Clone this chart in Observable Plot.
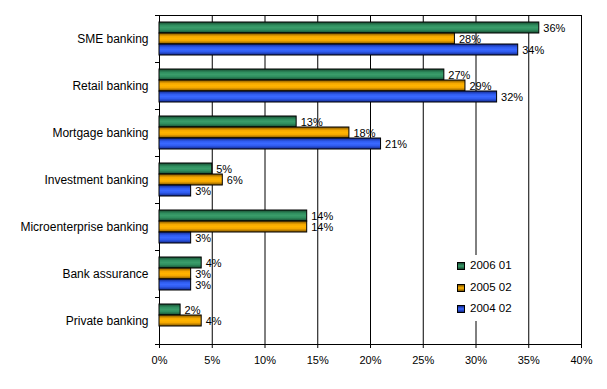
<!DOCTYPE html>
<html><head><meta charset="utf-8">
<script src="https://cdn.jsdelivr.net/npm/d3@7"></script>
<script src="https://cdn.jsdelivr.net/npm/@observablehq/plot@0.6"></script>
<style>
body{margin:0;background:#fff;font-family:"Liberation Sans",Arial,sans-serif;}
#wrap{position:relative;width:607px;height:389px;}
#legend{position:absolute;left:455px;top:255px;width:62px;height:66px;background:#fff;font-size:11.5px;color:#000;}
.item{position:absolute;left:2px;height:13px;line-height:13px;display:flex;align-items:center;white-space:nowrap;}
.sw{width:6px;height:6px;border:1px solid #000;margin-right:5px;}
svg [aria-label^="fy-axis"] text, svg [aria-label^="fy-axis"]{font-size:12px;}
</style></head><body><div id="wrap"></div>
<script>
const categories = ["SME banking","Retail banking","Mortgage banking","Investment banking","Microenterprise banking","Bank assurance","Private banking"];
const series = ["2006 01","2005 02","2004 02"];
const v2006 = [36,27,13,5,14,4,2];
const v2005 = [28,29,18,6,14,3,4];
const v2004 = [34,32,21,3,3,3,null];
const xTicks = [0,5,10,15,20,25,30,35,40];
const gradients = [
  {id:"gGreen", dark:"#174a30", base:"#2f8f5f", light:"#3a9c6a"},
  {id:"gOrange", dark:"#7a5200", base:"#f5a800", light:"#ffb400"},
  {id:"gBlue", dark:"#13288a", base:"#2f5cf0", light:"#3a68ff"}
];

const seriesValues = [v2006, v2005, v2004];
const data = [];
categories.forEach((c, i) => {
  series.forEach((s, j) => {
    const v = seriesValues[j][i];
    if (v != null) data.push({cat: c, series: s, value: v});
  });
});

const plot = Plot.plot({
  width: 607,
  height: 389,
  marginTop: 15,
  marginBottom: 45,
  marginLeft: 159,
  marginRight: 26,
  style: {fontFamily: '"Liberation Sans", Arial, sans-serif', fontSize: "11px", color: "#000", background: "#fff"},
  x: {domain: [0, 40], ticks: xTicks, tickFormat: d => d + "%", tickSize: 4, tickPadding: 8, label: null},
  y: {domain: series, axis: null, paddingInner: 0, paddingOuter: 0.46},
  fy: {domain: categories, padding: 0, label: null, tickSize: 0, tickPadding: 11},
  color: {domain: series, range: gradients.map(g => `url(#${g.id})`)},
  marks: [
    Plot.ruleX(xTicks, {x: d => d, stroke: "#000", strokeWidth: 1}),
    Plot.barX(data, {fy: "cat", y: "series", x: "value", fill: "series", stroke: "#000", strokeWidth: 1}),
    Plot.text(data, {fy: "cat", y: "series", x: "value", text: d => d.value + "%", textAnchor: "start", dx: 4, fill: "#000"})
  ]
});

// gradient definitions and plot-area border, from the library's scales
const svg = d3.select(plot);
const defs = svg.insert("defs", ":first-child");
gradients.forEach(g => {
  const lg = defs.append("linearGradient").attr("id", g.id).attr("x1", 0).attr("y1", 0).attr("x2", 0).attr("y2", 1);
  [[0, g.dark], [0.3, g.base], [0.5, g.light], [0.7, g.base], [1, g.dark]].forEach(([o, c]) =>
    lg.append("stop").attr("offset", o).attr("stop-color", c));
});
const xs = plot.scale("x"), fys = plot.scale("fy");
const x0 = xs.range[0], x1 = xs.range[1];
const y0 = fys.range[0], y1 = fys.range[1];
const deco = svg.append("g").attr("stroke", "#000").attr("stroke-width", 1).attr("shape-rendering", "crispEdges");
deco.append("line").attr("x1", x0).attr("x2", x1).attr("y1", y0 + 0.5).attr("y2", y0 + 0.5);
deco.append("line").attr("x1", x0).attr("x2", x1).attr("y1", y1 + 0.5).attr("y2", y1 + 0.5);
categories.concat([null]).forEach((c, i) => {
  const y = y0 + i * fys.step;
  deco.append("line").attr("x1", x0 - 4).attr("x2", x0).attr("y1", Math.round(y) + 0.5).attr("y2", Math.round(y) + 0.5);
});

const wrap = document.getElementById("wrap");
wrap.appendChild(plot);

const legend = document.createElement("div");
legend.id = "legend";
const tops = [4, 26, 47];
series.forEach((s, j) => {
  const g = gradients[j];
  const item = document.createElement("div");
  item.className = "item";
  item.style.top = tops[j] + "px";
  const sw = document.createElement("span");
  sw.className = "sw";
  sw.style.background = `linear-gradient(${g.dark}, ${g.light}, ${g.dark})`;
  item.appendChild(sw);
  item.appendChild(document.createTextNode(s));
  legend.appendChild(item);
});
wrap.appendChild(legend);
</script></body></html>
